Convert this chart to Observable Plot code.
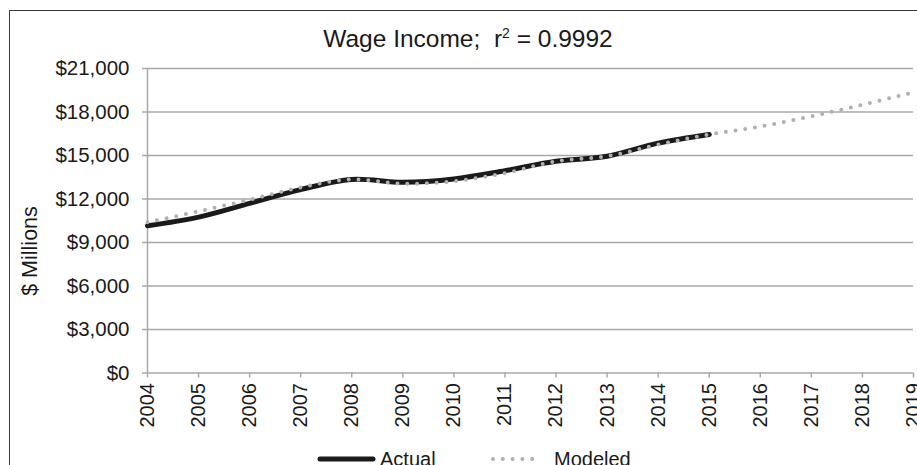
<!DOCTYPE html>
<html>
<head>
<meta charset="utf-8">
<script src="https://cdn.jsdelivr.net/npm/d3@7"></script>
<script src="https://cdn.jsdelivr.net/npm/@observablehq/plot@0.6"></script>
<style>
  html, body { margin: 0; padding: 0; background: #fff; }
  #wrap { position: relative; width: 917px; height: 465px; overflow: hidden; font-family: "Liberation Sans", Arial, sans-serif; color: #1a1a1a; }
  #wrap svg.plot { position: absolute; left: 0; top: 0; }
  .frame { position: absolute; left: 9px; top: 10px; width: 1000px; height: 1000px; border: 1.5px solid #3a3a3a; box-sizing: border-box; }
  .title { position: absolute; left: 0; width: 936px; top: 27px; text-align: center; font-size: 24.5px; line-height: 24px; white-space: pre; }
  .title sup { font-size: 14px; line-height: 0; vertical-align: 9px; }
  .ylabel { position: absolute; left: 30px; top: 251px; transform: translate(-50%, -50%) rotate(-90deg); font-size: 21.5px; line-height: 21px; white-space: nowrap; }
  .leg { position: absolute; top: 449px; font-size: 20px; line-height: 20px; white-space: nowrap; }
  .sw { position: absolute; }
</style>
</head>
<body>
<div id="wrap">
  <div class="frame"></div>
</div>
<script>
// ---- data ----
const actualYears = [2004, 2005, 2006, 2007, 2008, 2009, 2010, 2011, 2012, 2013, 2014, 2015];
const actualValues = [10150, 10750, 11700, 12650, 13350, 13150, 13380, 13950, 14600, 14950, 15850, 16450];
const modeledYears = [2004, 2005, 2006, 2007, 2008, 2009, 2010, 2011, 2012, 2013, 2014, 2015, 2016, 2017, 2018, 2019];
const modeledValues = [10400, 11150, 11950, 12800, 13350, 13050, 13230, 13780, 14600, 14950, 15750, 16450, 17000, 17700, 18500, 19350];
const yTicks = [0, 3000, 6000, 9000, 12000, 15000, 18000, 21000];
const xTicks = modeledYears;
const titleText = "Wage Income;  r";
const titleSup = "2";
const titleRest = " = 0.9992";
const yLabel = "$ Millions";
const seriesNames = ["Actual", "Modeled"];

const actual = actualYears.map((y, i) => ({year: y, value: actualValues[i]}));
const modeled = modeledYears.map((y, i) => ({year: y, value: modeledValues[i]}));

const gridColor = "#a8a8a8";
const fmt = d => "$" + d3.format(",")(d);

const chart = Plot.plot({
  width: 917,
  height: 465,
  marginLeft: 147,
  marginRight: 4,
  marginTop: 68,
  marginBottom: 92.5,
  style: {fontFamily: "'Liberation Sans', Arial, sans-serif", background: "transparent", color: "#1a1a1a"},
  x: {domain: [2004, 2019], type: "linear"},
  y: {domain: [0, 21000]},
  marks: [
    Plot.gridY(yTicks, {stroke: gridColor, strokeOpacity: 1, strokeWidth: 1.5}),
    Plot.ruleX([2004], {stroke: gridColor, strokeWidth: 1.5}),
    Plot.axisY(yTicks, {tickFormat: fmt, tickSize: 5, tickPadding: 13, stroke: gridColor, strokeWidth: 1.5, fontSize: 20.5, fill: "#1a1a1a", label: null}),
    Plot.axisX(xTicks, {tickFormat: d => String(d), tickRotate: -90, tickSize: 5, tickPadding: 5, stroke: gridColor, strokeWidth: 1.5, fontSize: 20, fill: "#1a1a1a", label: null}),
    Plot.line(actual, {x: "year", y: "value", stroke: "#1a1a1a", strokeWidth: 5, curve: "catmull-rom"}),
    Plot.line(modeled, {x: "year", y: "value", stroke: "#b0b0b0", strokeWidth: 4, strokeLinecap: "round", strokeDasharray: "0 9.8", curve: "catmull-rom"})
  ]
});
chart.classList.add("plot");
const wrap = document.getElementById("wrap");
wrap.appendChild(chart);

// title
const t = document.createElement("div");
t.className = "title";
t.append(titleText);
const sup = document.createElement("sup");
sup.textContent = titleSup;
t.append(sup);
t.append(titleRest);
wrap.appendChild(t);

// y label
const yl = document.createElement("div");
yl.className = "ylabel";
yl.textContent = yLabel;
wrap.appendChild(yl);

// legend
const NS = "http://www.w3.org/2000/svg";
function swatch(x, w, dotted) {
  const s = document.createElementNS(NS, "svg");
  s.setAttribute("class", "sw");
  s.setAttribute("width", w + 10);
  s.setAttribute("height", 12);
  s.style.left = (x - 5) + "px";
  s.style.top = (459 - 6) + "px";
  const l = document.createElementNS(NS, "line");
  l.setAttribute("x1", 5); l.setAttribute("x2", 5 + w);
  l.setAttribute("y1", 6); l.setAttribute("y2", 6);
  if (dotted) {
    l.setAttribute("stroke", "#b0b0b0");
    l.setAttribute("stroke-width", 4);
    l.setAttribute("stroke-linecap", "round");
    l.setAttribute("stroke-dasharray", "0 9.8");
  } else {
    l.setAttribute("stroke", "#1a1a1a");
    l.setAttribute("stroke-width", 5);
    l.setAttribute("stroke-linecap", "round");
  }
  s.appendChild(l);
  wrap.appendChild(s);
}
function legText(x, txt) {
  const d = document.createElement("div");
  d.className = "leg";
  d.style.left = x + "px";
  d.textContent = txt;
  wrap.appendChild(d);
}
swatch(320, 53, false);
legText(380, seriesNames[0]);
swatch(493, 49, true);
legText(554, seriesNames[1]);
</script>
</body>
</html>
